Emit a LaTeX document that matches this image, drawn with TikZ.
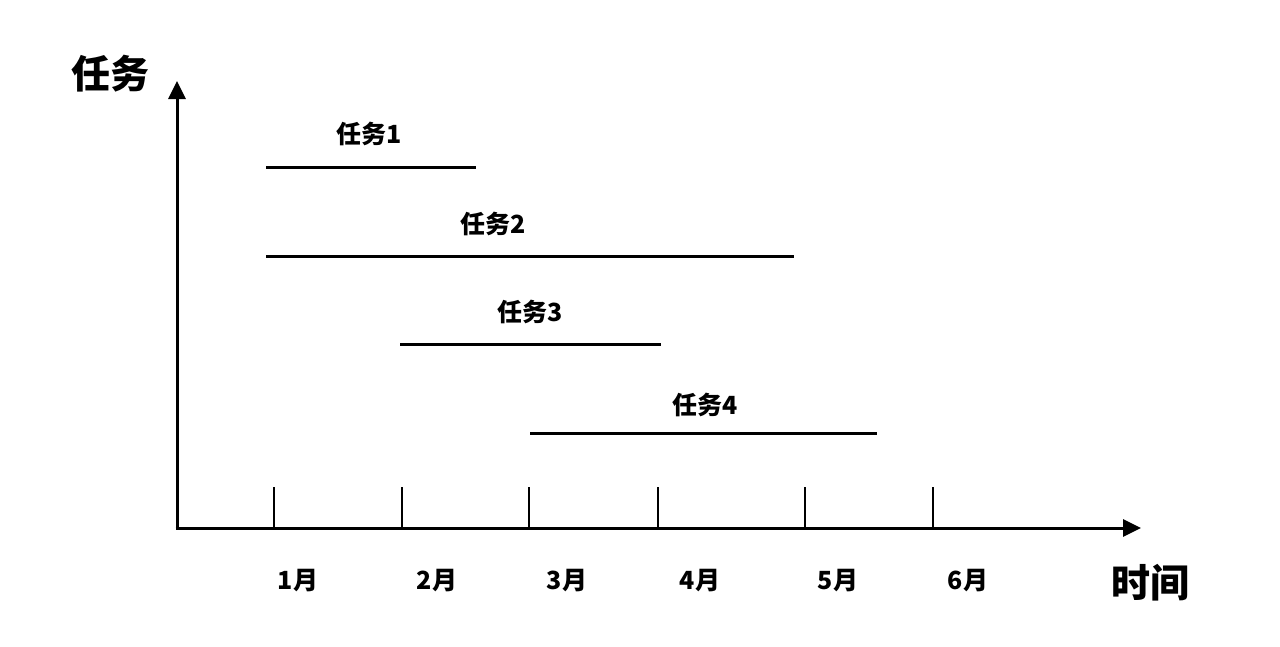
\documentclass[tikz,border=0pt]{standalone}
\usepackage{fontspec}
\newfontfamily\cjk{Noto Sans CJK SC}[BoldFont={* Black}]
\usetikzlibrary{arrows.meta}
\begin{document}
\begin{tikzpicture}[x=1pt,y=-1pt,
  axis/.style={line width=3pt,-{Triangle[length=18pt,width=17pt]}},
  tickmark/.style={line width=2.8pt},
  bar/.style={line width=3pt},
  lbl/.style={font=\cjk\bfseries\fontsize{25}{29}\selectfont,inner sep=0pt},
  biglbl/.style={font=\cjk\bfseries\fontsize{39}{44}\selectfont,inner sep=0pt}]
\useasboundingbox (0,0) rectangle (1280,646);
\coordinate (o) at (177,528);
\coordinate (ytop) at (177,81);
\coordinate (xend) at (1141,528);
\draw[axis] (o) -- (ytop);
\draw[axis] ([xshift=-1.5pt]o) -- (xend);
\node[biglbl] (ylab) at (110,74) {任务};
\node[biglbl] (xlab) at (1150,583) {时间};
% ticks
\foreach \x/\n in {274/1,402/2,529/3,658/4,805/5,933/6}{
  \coordinate (t\n a) at (\x,487);
  \coordinate (t\n b) at (\x,528);
  \draw[tickmark] (t\n a) -- (t\n b);
}
\node[lbl] (m1) at (298,581) {1月};
\node[lbl] (m2) at (437,581) {2月};
\node[lbl] (m3) at (567,581) {3月};
\node[lbl] (m4) at (700,581) {4月};
\node[lbl] (m5) at (838,581) {5月};
\node[lbl] (m6) at (968,581) {6月};
% tasks
\coordinate (b1s) at (266,167); \coordinate (b1e) at (476,167);
\coordinate (b2s) at (266,256); \coordinate (b2e) at (794,256);
\coordinate (b3s) at (400,344); \coordinate (b3e) at (661,344);
\coordinate (b4s) at (530,433); \coordinate (b4e) at (877,433);
\draw[bar] (b1s) -- (b1e);
\draw[bar] (b2s) -- (b2e);
\draw[bar] (b3s) -- (b3e);
\draw[bar] (b4s) -- (b4e);
\node[lbl] (k1) at (369,134) {任务1};
\node[lbl] (k2) at (493,224) {任务2};
\node[lbl] (k3) at (530,312) {任务3};
\node[lbl] (k4) at (705,405) {任务4};
\end{tikzpicture}
\end{document}
